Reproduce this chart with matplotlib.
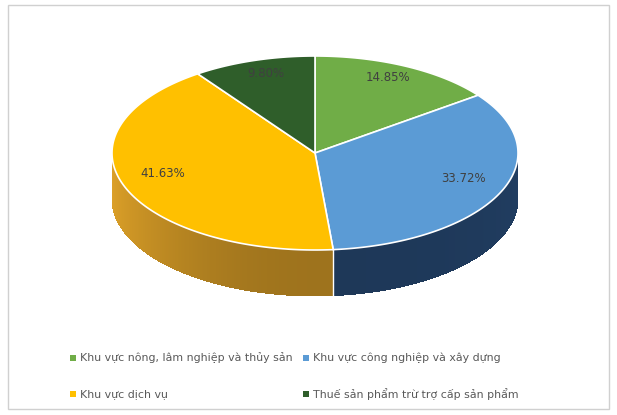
import numpy as np
import matplotlib.pyplot as plt
from matplotlib.patches import Polygon, Rectangle
from matplotlib.collections import PolyCollection
import matplotlib.colors as mcolors

# Data
sectors = ["Khu vực nông, lâm nghiệp và thủy sản",
           "Khu vực công nghiệp và xây dựng",
           "Khu vực dịch vụ",
           "Thuế sản phẩm trừ trợ cấp sản phẩm"]
shares = [14.85, 33.72, 41.63, 9.80]
top_colors = ["#70AD47", "#5B9BD5", "#FFC000", "#2F5E2A"]
side_colors = ["#4E7A32", "#213E62", "#B08020", "#1E3D1B"]

# Geometry (pixels)
cx, cy = 315, 153
rx, ry = 203, 97
depth = 46

fig = plt.figure(figsize=(6.17, 4.15), dpi=100)
ax = fig.add_axes([0, 0, 1, 1])
ax.set_xlim(0, 617)
ax.set_ylim(415, 0)
ax.axis("off")

ax.add_patch(Rectangle((8, 5), 601, 404, fill=False, edgecolor="#D0D0D0", lw=1))

def pt(theta, dy=0.0, scale=1.0):
    return (cx + scale * rx * np.sin(theta), cy - scale * ry * np.cos(theta) + dy)

bounds = np.concatenate([[0], np.cumsum(shares)]) / sum(shares) * 2 * np.pi

# sides (front half only), drawn as shaded strips
polys, cols = [], []
for i in range(len(shares)):
    a0, a1 = max(bounds[i], np.pi / 2), min(bounds[i + 1], 3 * np.pi / 2)
    if a1 <= a0:
        continue
    ts = np.linspace(a0, a1, max(int((a1 - a0) / 0.01), 2))
    base = np.array(mcolors.to_rgb(side_colors[i]))
    for t0, t1 in zip(ts[:-1], ts[1:]):
        p = [pt(t0), pt(t1 + 0.004), pt(t1 + 0.004, depth), pt(t0, depth)]
        polys.append(p)
        tm = 0.5 * (t0 + t1)
        # lighter towards the left rim, darker towards the front
        shade = 1.0 + 0.25 * max(0.0, -np.sin(tm)) ** 2 - 0.1 * abs(np.cos(tm))
        cols.append(np.clip(base * shade, 0, 1))
ax.add_collection(PolyCollection(polys, facecolors=cols, edgecolors="none",
                                 antialiaseds=False))

# white seams on side at slice boundaries
for b in bounds:
    if np.pi / 2 < b < 3 * np.pi / 2:
        x0, y0 = pt(b)
        ax.plot([x0, x0], [y0, y0 + depth], color="white", lw=1)

# top face
for i in range(len(shares)):
    ts = np.linspace(bounds[i], bounds[i + 1], 200)
    pts = [(cx, cy)] + [pt(t) for t in ts]
    ax.add_patch(Polygon(pts, closed=True, facecolor=top_colors[i],
                         edgecolor="white", lw=1.2))

# labels
for i, s in enumerate(shares):
    mid = 0.5 * (bounds[i] + bounds[i + 1])
    x, y = pt(mid, dy=-6, scale=0.8)
    ax.text(x, y, f"{s:.2f}%", ha="center", va="center",
            fontsize=8.5, color="#404040")

# legend
leg_pos = [(73, 358), (306, 358), (73, 394), (306, 394)]
for (x, y), name, c in zip(leg_pos, sectors, top_colors):
    ax.add_patch(Rectangle((x - 3, y - 3), 6, 6, facecolor=c, edgecolor="none"))
    ax.text(x + 7, y, name, ha="left", va="center", fontsize=7.9, color="#595959")

fig.savefig("out.png", dpi=100)
